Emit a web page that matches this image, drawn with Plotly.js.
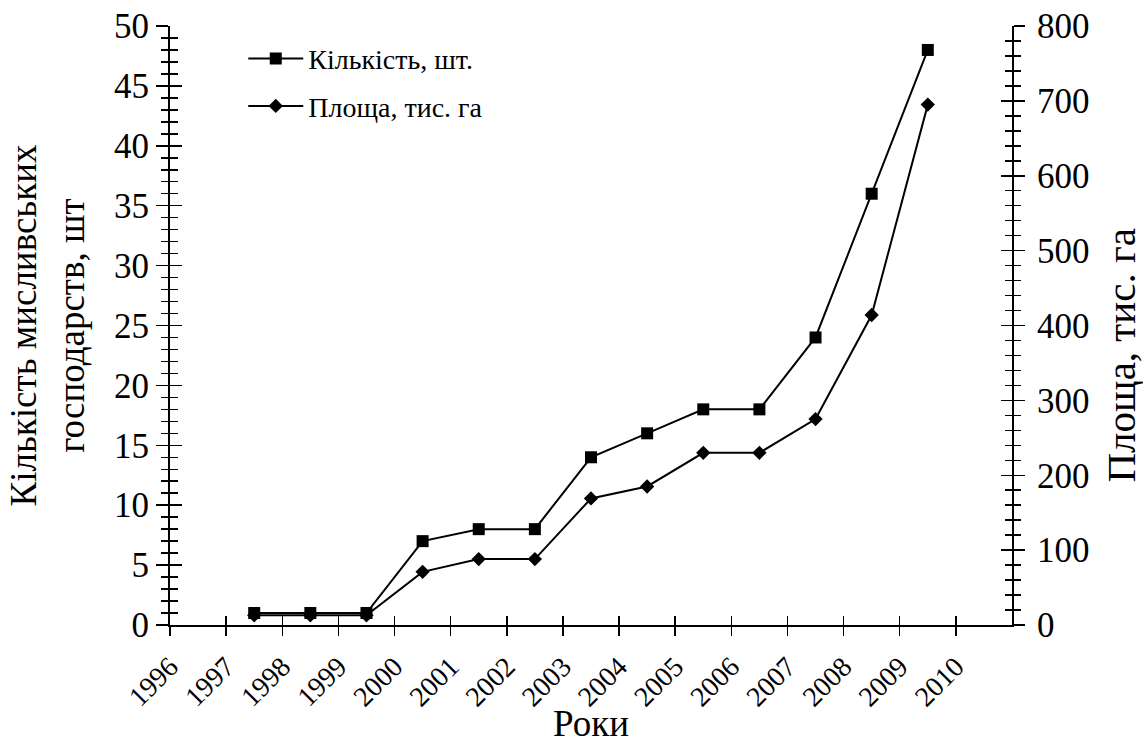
<!DOCTYPE html>
<html>
<head>
<meta charset="utf-8">
<script src="https://cdn.plot.ly/plotly-3.0.1.min.js"></script>
<style>html,body{margin:0;padding:0;background:#fff;}#chart{width:1143px;height:744px;}</style>
</head>
<body>
<div id="chart"></div>
<script>
// Data
const yearPositions = [1997.5, 1998.5, 1999.5, 2000.5, 2001.5, 2002.5, 2003.5, 2004.5, 2005.5, 2006.5, 2007.5, 2008.5, 2009.5];
const countValues = [1, 1, 1, 7, 8, 8, 14, 16, 18, 18, 24, 36, 48];
const areaValues = [13, 13, 13, 71, 88, 88, 169, 185, 230, 230, 275, 414, 695];
const yearTicks = [1996, 1997, 1998, 1999, 2000, 2001, 2002, 2003, 2004, 2005, 2006, 2007, 2008, 2009, 2010];
const yearLabels = yearTicks.map(String);
const countName = 'Кількість, шт.';
const areaName = 'Площа, тис. га';
const leftTitle = 'Кількість мисливських<br>господарств, шт';
const rightTitle = 'Площа, тис. га';
const xTitle = 'Роки';

const FONT = '"Liberation Serif", "Times New Roman", Times, serif';

const traces = [
  {x: yearPositions, y: countValues, name: countName, type: 'scatter', mode: 'lines+markers',
   line: {color: '#000', width: 2}, marker: {symbol: 'square', size: 12, color: '#000'},
   xaxis: 'x', yaxis: 'y', legendgroup: 'a'},
  {x: yearPositions, y: areaValues, name: areaName, type: 'scatter', mode: 'lines+markers',
   line: {color: '#000', width: 2}, marker: {symbol: 'diamond', size: 11, color: '#000'},
   xaxis: 'x', yaxis: 'y2', legendgroup: 'b'},
  // empty helper traces so the overlaid tick-only axes are drawn
  {x: [null], y: [null], xaxis: 'x2', yaxis: 'y', showlegend: false, hoverinfo: 'skip', mode: 'lines'},
  {x: [null], y: [null], xaxis: 'x', yaxis: 'y3', showlegend: false, hoverinfo: 'skip', mode: 'lines'},
  {x: [null], y: [null], xaxis: 'x', yaxis: 'y4', showlegend: false, hoverinfo: 'skip', mode: 'lines'}
];

const baseAxis = {showgrid: false, zeroline: false, tickcolor: '#000', tickwidth: 1.5, fixedrange: true};

const layout = {
  width: 1143, height: 744,
  margin: {l: 170, r: 131, t: 26, b: 119, pad: 0},
  paper_bgcolor: '#fff', plot_bgcolor: '#fff',
  font: {family: FONT, color: '#000', size: 28},
  showlegend: true,
  legend: {x: 0.087, y: 0.987, xanchor: 'left', yanchor: 'top', bgcolor: 'rgba(0,0,0,0)',
           itemwidth: 55,
           font: {family: FONT, size: 28, color: '#000'}, traceorder: 'grouped', tracegroupgap: 8},
  xaxis: Object.assign({}, baseAxis, {
    range: [1996, 2011], tickmode: 'array', tickvals: yearTicks, ticktext: yearLabels,
    tickangle: -45, ticks: 'outside', ticklen: 9, ticklabelstandoff: 3,
    showline: true, linecolor: '#000', linewidth: 2,
    tickfont: {family: FONT, size: 28, color: '#000'},
    title: {text: xTitle, font: {family: FONT, size: 37, color: '#000'}, standoff: 0}
  }),
  xaxis2: Object.assign({}, baseAxis, {
    overlaying: 'x', anchor: 'y', side: 'bottom',
    range: [1996, 2011], tickmode: 'array', tickvals: yearTicks,
    ticks: 'inside', ticklen: 9, showticklabels: false, showline: false
  }),
  yaxis: Object.assign({}, baseAxis, {
    range: [0, 50], tickmode: 'linear', tick0: 0, dtick: 5,
    ticks: 'outside', ticklen: 12, showline: true, linecolor: '#000', linewidth: 2,
    minor: {dtick: 1, ticks: 'outside', ticklen: 7, tickwidth: 1.5, tickcolor: '#000', showgrid: false},
    tickfont: {family: FONT, size: 35, color: '#000'}, ticklabelstandoff: 0,
    title: {text: leftTitle, font: {family: FONT, size: 37, color: '#000'}, standoff: 18}
  }),
  yaxis3: Object.assign({}, baseAxis, {
    overlaying: 'y', anchor: 'x', side: 'left',
    range: [0, 50], tickmode: 'linear', tick0: 0, dtick: 5,
    ticks: 'inside', ticklen: 12, showticklabels: false, showline: false,
    minor: {dtick: 1, ticks: 'inside', ticklen: 8, tickwidth: 1.5, tickcolor: '#000', showgrid: false}
  }),
  yaxis2: Object.assign({}, baseAxis, {
    overlaying: 'y', anchor: 'x', side: 'right',
    range: [0, 800], tickmode: 'linear', tick0: 0, dtick: 100,
    ticks: 'outside', ticklen: 11, showline: true, linecolor: '#000', linewidth: 2,
    minor: {dtick: 20, ticks: 'outside', ticklen: 7, tickwidth: 1.5, tickcolor: '#000', showgrid: false},
    tickfont: {family: FONT, size: 35, color: '#000'}, ticklabelstandoff: 5
  }),
  yaxis4: Object.assign({}, baseAxis, {
    overlaying: 'y', anchor: 'x', side: 'right',
    range: [0, 800], tickmode: 'linear', tick0: 0, dtick: 100,
    ticks: 'inside', ticklen: 11, showticklabels: false, showline: false,
    minor: {dtick: 20, ticks: 'inside', ticklen: 7, tickwidth: 1.5, tickcolor: '#000', showgrid: false}
  }),
  annotations: [
    {text: rightTitle, xref: 'paper', yref: 'paper', x: 1.1295, y: 0.45,
     xanchor: 'center', yanchor: 'middle', textangle: -90, showarrow: false,
     font: {family: FONT, size: 41, color: '#000'}}
  ]
};

Plotly.newPlot('chart', traces, layout, {displayModeBar: false, staticPlot: true});
</script>
</body>
</html>
